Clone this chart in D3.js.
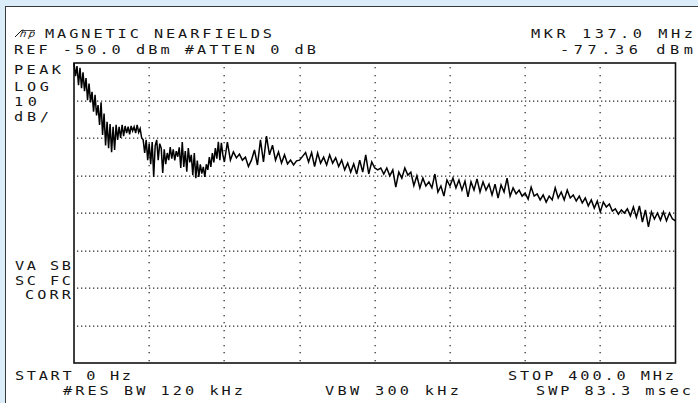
<!DOCTYPE html>
<html><head><meta charset="utf-8">
<script src="https://cdn.jsdelivr.net/npm/d3@7/dist/d3.min.js"></script>
<style>
html,body{margin:0;padding:0;background:#dcedfa;}
svg{display:block;}
text{font-family:"DejaVu Sans Mono","Liberation Mono",monospace;font-size:12.5px;fill:#151515;}
</style></head>
<body>
<svg id="chart" width="698" height="403"></svg>
<script>
// Frequency axis (MHz) and amplitude axis (dBm)
const freqStart = 0, freqStop = 400;
const refLevel = -50, dbPerDiv = 10, yDivs = 8, xDivs = 10;
// Trace readings (dBm): 1 MHz steps from 0 to 100 MHz
const lowStart = 0, lowStep = 1;
const traceLowDbm = [
 -49.0,-53.5,-50.8,-55.9,-51.3,-56.7,-52.5,-57.5,-54.0,-59.9,
 -55.5,-60.5,-57.7,-63.0,-58.5,-64.0,-61.2,-66.5,-60.5,-69.2,
 -63.5,-72.0,-65.7,-72.7,-66.3,-73.8,-67.0,-73.2,-66.5,-70.5,
 -67.0,-70.0,-66.5,-69.5,-66.8,-68.7,-67.0,-69.0,-66.8,-68.1,
 -67.0,-68.7,-66.5,-68.5,-67.5,-70.0,-70.5,-74.0,-70.5,-75.9,
 -71.5,-77.0,-71.1,-80.4,-72.0,-70.5,-75.9,-71.5,-72.7,-79.3,
 -73.0,-77.0,-74.0,-75.9,-72.4,-75.5,-73.0,-76.0,-73.5,-75.0,
 -72.5,-78.0,-71.1,-77.7,-73.5,-79.0,-72.7,-76.5,-74.5,-79.9,
 -74.0,-80.7,-76.0,-80.4,-77.0,-79.5,-77.7,-80.4,-77.0,-78.5,
 -75.1,-77.7,-74.0,-76.5,-72.7,-75.5,-71.0,-75.9,-71.3,-74.5,
 -76.4
];
// Trace readings (dBm): 2 MHz steps from 102 to 400 MHz
const highStart = 102, highStep = 2;
const traceHighDbm = [
 -71.1,-75.9,-73.7,-75.3,-74.3,-75.9,-75.1,-77.6,-75.9,
 -73.2,-77.2,-70.5,-76.4,-69.5,-74.5,-71.9,-75.9,-73.7,-76.7,
 -74.5,-76.9,-75.9,-77.2,-76.1,-75.9,-74.9,-73.9,-76.4,-73.9,
 -77.6,-74.0,-76.7,-75.1,-77.2,-74.5,-76.7,-75.3,-77.6,-75.9,
 -78.5,-76.7,-79.1,-76.9,-79.6,-75.9,-79.1,-74.5,-79.6,-76.4,
 -78.0,-78.5,-78.0,-79.6,-78.0,-80.1,-78.5,-83.1,-79.1,-80.7,
 -78.0,-79.9,-79.1,-82.7,-80.1,-83.3,-80.7,-82.8,-81.7,-83.3,
 -79.6,-84.4,-82.8,-85.5,-81.2,-82.8,-80.7,-83.3,-81.2,-83.9,
 -81.5,-85.7,-81.7,-83.9,-80.9,-84.4,-81.7,-83.9,-82.3,-85.2,
 -82.3,-86.0,-82.5,-84.4,-80.7,-85.5,-83.3,-84.9,-83.9,-85.5,
 -84.7,-86.3,-83.1,-85.5,-84.9,-86.5,-85.2,-87.1,-85.5,-86.5,
 -83.3,-86.0,-84.4,-86.5,-83.9,-86.0,-85.2,-86.8,-85.5,-87.3,
 -86.0,-88.1,-86.5,-88.7,-86.8,-89.7,-87.1,-88.4,-87.6,-89.5,
 -88.9,-90.3,-89.2,-90.0,-88.9,-90.8,-88.4,-91.1,-88.1,-92.4,
 -89.2,-93.7,-89.7,-91.6,-90.0,-91.9,-89.7,-92.1,-90.0,-91.6,
 -92.1
];
// Annotation labels: [text, x, baseline, length]
const topLabels = [
 ["MAGNETIC NEARFIELDS",45,38,227],
 ["REF -50.0 dBm #ATTEN 0 dB",14,54,302],
 ["MKR 137.0 MHz",531,38,162],
 ["-77.36 dBm",560,54,133]
];
const sideLabels = [
 ["PEAK",14,74,47],["LOG",14,91,35],["10",14,106,23],["dB/",14,121,35],
 ["VA SB",15,270,56],["SC FC",15,285,56],["CORR",25,299,46]
];
const bottomLabels = [
 ["START 0 Hz",15,380,116],
 ["#RES BW 120 kHz",63,395,180],
 ["VBW 300 kHz",325,395,134],
 ["STOP 400.0 MHz",508,380,166],
 ["SWP 83.3 msec",536,395,155]
];

const trace = traceLowDbm.map((v,i)=>({f: lowStart + i*lowStep, v}))
  .concat(traceHighDbm.map((v,i)=>({f: highStart + i*highStep, v})));

const svg = d3.select("#chart");
// panel
svg.append("rect").attr("x",0).attr("y",0).attr("width",698).attr("height",403).attr("fill","#dcedfa");
svg.append("rect").attr("x",5.5).attr("y",6.5).attr("width",700).attr("height",410)
  .attr("fill","#fff").attr("stroke","#3a3a3a").attr("stroke-width",1);

const x = d3.scaleLinear().domain([freqStart,freqStop]).range([74,675.5]);
const y = d3.scaleLinear().domain([refLevel - dbPerDiv*yDivs, refLevel]).range([363,63]);

// dotted graticule
const g = svg.append("g");
const xt = x.ticks(xDivs).slice(1,-1);
const yt = d3.range(1,yDivs).map(k => refLevel - k*dbPerDiv);
yt.forEach(v => {
  const yy = Math.round(y(v));
  d3.range(x(freqStart)+3, x(freqStop)-1, 4.0).forEach(px => {
    g.append("rect").attr("x",Math.round(px)).attr("y",yy-0.5).attr("width",1.3).attr("height",1.3).attr("fill","#333");
  });
});
xt.forEach(f => {
  const xx = Math.round(x(f));
  d3.range(y(refLevel)+4, y(refLevel-dbPerDiv*yDivs), 7.5).forEach(py => {
    g.append("rect").attr("x",xx-0.5).attr("y",Math.round(py)).attr("width",1.3).attr("height",1.3).attr("fill","#333");
  });
});

// frame
svg.append("rect").attr("x",x(freqStart)).attr("y",y(refLevel)).attr("width",x(freqStop)-x(freqStart))
  .attr("height",y(refLevel-dbPerDiv*yDivs)-y(refLevel)).attr("fill","none").attr("stroke","#111").attr("stroke-width",1.6);

// trace
const line = d3.line().x(d=>x(d.f)).y(d=>y(Math.min(d.v,refLevel)));
svg.append("path").datum(trace).attr("d",line).attr("fill","none").attr("stroke","#000")
  .attr("stroke-width",1.5).attr("stroke-linejoin","miter");

// labels (wide glyphs like the analyzer's screen font)
const sx = 1.22;
function addLabels(arr){
  arr.forEach(([t,tx,ty,len]) => {
    svg.append("text").attr("transform",`translate(${tx},${ty}) scale(${sx},1)`)
      .attr("textLength",len/sx).attr("lengthAdjust","spacing").text(t);
  });
}
addLabels(topLabels); addLabels(sideLabels); addLabels(bottomLabels);

// hp logo
svg.append("text").attr("transform","translate(19,37) skewX(-20)").style("font-family","DejaVu Sans")
  .style("font-size","10px").attr("textLength",15).text("hp");
svg.append("line").attr("x1",15).attr("y1",37).attr("x2",22).attr("y2",30).attr("stroke","#151515").attr("stroke-width",1);
svg.append("line").attr("x1",22).attr("y1",30.5).attr("x2",35).attr("y2",30.5).attr("stroke","#151515").attr("stroke-width",0.8);
</script>
</body></html>
